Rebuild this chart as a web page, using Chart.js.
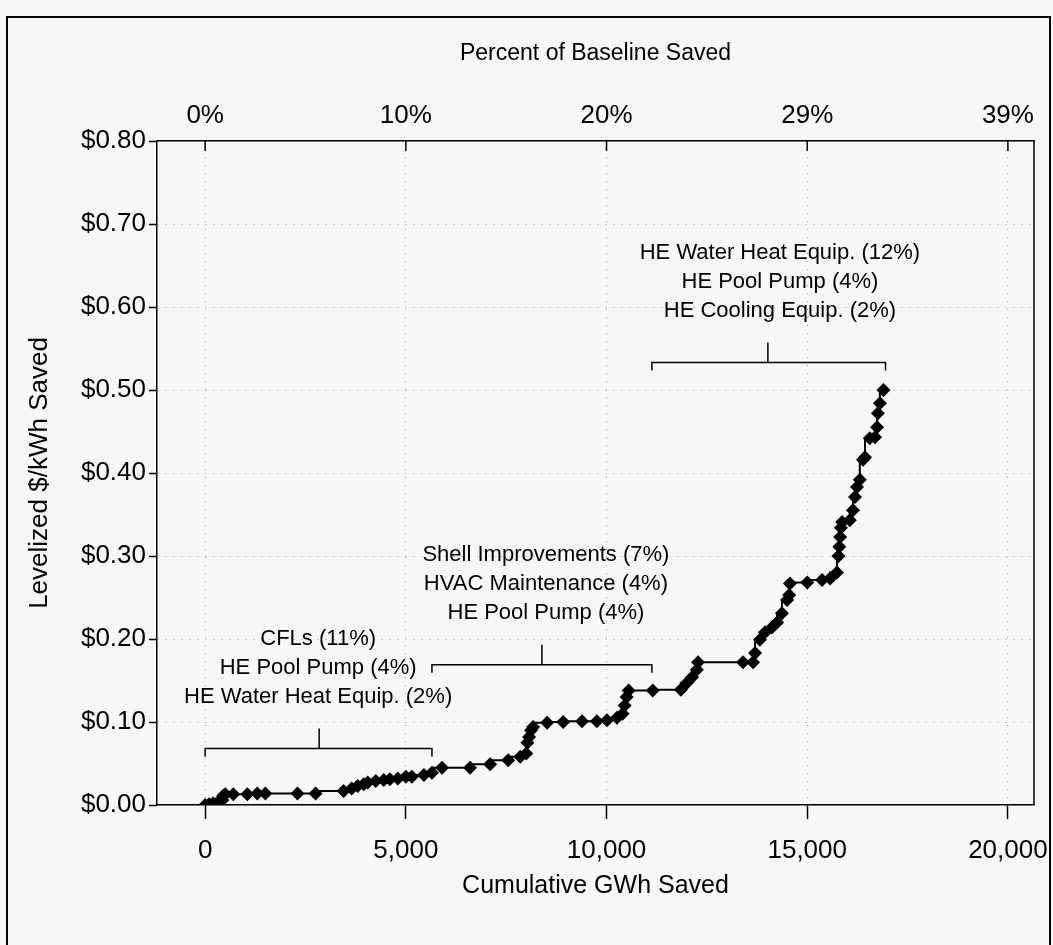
<!DOCTYPE html>
<html>
<head>
<meta charset="utf-8">
<script src="https://cdn.jsdelivr.net/npm/chart.js@4.4.1/dist/chart.umd.min.js"></script>
<style>
  html, body { margin: 0; padding: 0; background: #f7f7f7; }
  #wrap { width: 1053px; height: 945px; }
</style>
</head>
<body>
<div id="wrap"><canvas id="curve" width="1053" height="945"></canvas></div>
<script>
// supply curve: cumulative GWh and levelized $/kWh
const gwh = [0, 100, 200, 330, 430, 450, 500, 700, 1050, 1300, 1500, 2300, 2750,
  3450, 3650, 3800, 3950, 4050, 4250, 4450, 4600, 4800, 5000, 5150, 5450, 5650, 5900,
  6600, 7100, 7550, 7850, 8000, 8030, 8070, 8120, 8170, 8520, 8920, 9390, 9760, 10010, 10260,
  10400, 10450, 10500, 10550, 11150, 11850, 12000, 12130, 12250, 12280, 13400, 13650,
  13700, 13820, 13950, 14120, 14250, 14370, 14500, 14550, 14570, 15000, 15370, 15570, 15740,
  15780, 15800, 15820, 15840, 15870, 16060, 16140, 16190, 16240, 16310, 16390, 16440,
  16560, 16690, 16740, 16760, 16810, 16900];
const cost = [0.000, 0.001, 0.002, 0.004, 0.006, 0.011, 0.013, 0.013, 0.013, 0.014, 0.014, 0.014, 0.014,
  0.017, 0.020, 0.023, 0.025, 0.027, 0.029, 0.030, 0.031, 0.032, 0.034, 0.034, 0.036, 0.039, 0.045,
  0.045, 0.049, 0.054, 0.058, 0.062, 0.075, 0.082, 0.090, 0.094, 0.099, 0.100, 0.101, 0.101, 0.102, 0.105,
  0.110, 0.120, 0.130, 0.138, 0.138, 0.139, 0.147, 0.154, 0.163, 0.172, 0.172, 0.172,
  0.183, 0.199, 0.208, 0.214, 0.220, 0.231, 0.247, 0.253, 0.267, 0.268, 0.271, 0.273, 0.280,
  0.300, 0.311, 0.323, 0.334, 0.341, 0.343, 0.355, 0.371, 0.383, 0.392, 0.416, 0.419,
  0.442, 0.443, 0.455, 0.472, 0.484, 0.500];

const xTickValues = [0, 5000, 10000, 15000, 20000];
const xTickLabels = ['0', '5,000', '10,000', '15,000', '20,000'];
const pctTickLabels = ['0%', '10%', '20%', '29%', '39%'];
const yTickValues = [0, 0.1, 0.2, 0.3, 0.4, 0.5, 0.6, 0.7, 0.8];
const yTickLabels = ['$0.00', '$0.10', '$0.20', '$0.30', '$0.40', '$0.50', '$0.60', '$0.70', '$0.80'];

// measure groups marked with brackets
const groupLabels = [
  ['CFLs (11%)', 'HE Pool Pump (4%)', 'HE Water Heat Equip. (2%)'],
  ['Shell Improvements (7%)', 'HVAC Maintenance (4%)', 'HE Pool Pump (4%)'],
  ['HE Water Heat Equip. (12%)', 'HE Pool Pump (4%)', 'HE Cooling Equip. (2%)']
];
const groupStart = [0, 5650, 11130];
const groupEnd = [5650, 11130, 16950];
const groupMid = [2840, 8390, 14020];
const groupLevel = [0.068, 0.169, 0.533];
const groupTextX = [2815, 8490, 14320];

const FONT = "'Liberation Sans', Arial, sans-serif";
Chart.defaults.font.family = FONT;
Chart.defaults.color = '#000';

const points = gwh.map((g, i) => ({x: g, y: cost[i]}));

const decor = {
  id: 'decor',
  beforeDraw(chart) {
    const ctx = chart.ctx;
    ctx.save();
    ctx.fillStyle = '#f7f7f7';
    ctx.fillRect(0, 0, chart.width, chart.height);
    ctx.restore();
  },
  afterDraw(chart) {
    const ctx = chart.ctx;
    const area = chart.chartArea;
    const xs = chart.scales.x, ys = chart.scales.y, top = chart.scales.x2;
    ctx.save();
    ctx.strokeStyle = '#000';
    ctx.lineWidth = 1.5;
    // right side of the plot box
    ctx.beginPath();
    ctx.moveTo(area.right, area.top);
    ctx.lineTo(area.right, area.bottom);
    ctx.stroke();
    // top axis ticks point inward
    top.ticks.forEach(t => {
      const px = top.getPixelForValue(t.value);
      ctx.beginPath();
      ctx.moveTo(px, area.top);
      ctx.lineTo(px, area.top + 10);
      ctx.stroke();
    });
    // brackets + labels
    ctx.font = '22px ' + FONT;
    ctx.fillStyle = '#000';
    ctx.textAlign = 'center';
    ctx.textBaseline = 'middle';
    groupLabels.forEach((lines, i) => {
      const x0 = xs.getPixelForValue(groupStart[i]);
      const x1 = xs.getPixelForValue(groupEnd[i]);
      const xm = xs.getPixelForValue(groupMid[i]);
      const yb = ys.getPixelForValue(groupLevel[i]);
      ctx.beginPath();
      ctx.moveTo(x0, yb + 8);
      ctx.lineTo(x0, yb);
      ctx.lineTo(x1, yb);
      ctx.lineTo(x1, yb + 8);
      ctx.moveTo(xm, yb);
      ctx.lineTo(xm, yb - 20);
      ctx.stroke();
      const tx = xs.getPixelForValue(groupTextX[i]);
      const last = yb - 20 - 32;
      lines.forEach((s, k) => {
        ctx.fillText(s, tx, last - (lines.length - 1 - k) * 29);
      });
    });
    // outer frame
    ctx.lineWidth = 2;
    ctx.beginPath();
    ctx.moveTo(7, chart.height);
    ctx.lineTo(7, 17);
    ctx.lineTo(1050, 17);
    ctx.lineTo(1050, chart.height);
    ctx.stroke();
    ctx.restore();
  }
};

new Chart(document.getElementById('curve'), {
  type: 'scatter',
  data: {
    datasets: [{
      data: points,
      showLine: true,
      stepped: 'after',
      borderColor: '#000',
      borderWidth: 2,
      backgroundColor: '#000',
      pointStyle: 'rectRot',
      pointRadius: 7,
      pointBorderWidth: 0
    }]
  },
  options: {
    responsive: false,
    animation: false,
    layout: {padding: {left: 0, right: 19, top: 0, bottom: 0}},
    plugins: {legend: {display: false}, tooltip: {enabled: false}},
    scales: {
      x: {
        type: 'linear', position: 'bottom', min: -1200, max: 20650,
        afterBuildTicks: s => { s.ticks = xTickValues.map(v => ({value: v})); },
        afterFit: s => { s.height = 140; s.paddingLeft = 0; s.paddingRight = 0; },
        ticks: {
          callback: (v, i) => xTickLabels[i],
          font: {size: 26}, padding: 16, maxRotation: 0, autoSkip: false
        },
        grid: {color: 'rgba(0,0,0,0.38)', lineWidth: 1, tickLength: 14, tickColor: '#000', tickWidth: 1.5},
        border: {color: '#000', width: 1.5, dash: [1, 7]},
        title: {display: true, text: 'Cumulative GWh Saved', font: {size: 25}, padding: {top: 0, bottom: 44}}
      },
      x2: {
        type: 'linear', position: 'top', min: -1200, max: 20650,
        afterBuildTicks: s => { s.ticks = xTickValues.map(v => ({value: v})); },
        afterFit: s => { s.height = 141; s.paddingLeft = 0; s.paddingRight = 0; },
        ticks: {
          callback: (v, i) => pctTickLabels[i],
          font: {size: 26}, padding: 10, maxRotation: 0, autoSkip: false
        },
        grid: {display: false, drawTicks: false},
        border: {display: true, color: '#000', width: 1.5},
        title: {display: true, text: 'Percent of Baseline Saved', font: {size: 23}, padding: {top: 40, bottom: 0}}
      },
      y: {
        min: 0, max: 0.8,
        afterBuildTicks: s => { s.ticks = yTickValues.map(v => ({value: v})); },
        afterFit: s => { s.width = 157; },
        ticks: {callback: (v, i) => yTickLabels[i], font: {size: 26}, padding: 3},
        grid: {color: 'rgba(0,0,0,0.38)', lineWidth: 1, tickLength: 8, tickColor: '#000', tickWidth: 1.5},
        border: {color: '#000', width: 1.5, dash: [1, 7]},
        title: {display: true, text: 'Levelized $/kWh Saved', font: {size: 26}, padding: {top: 24, bottom: 0}}
      }
    }
  },
  plugins: [decor]
});
</script>
</body>
</html>
